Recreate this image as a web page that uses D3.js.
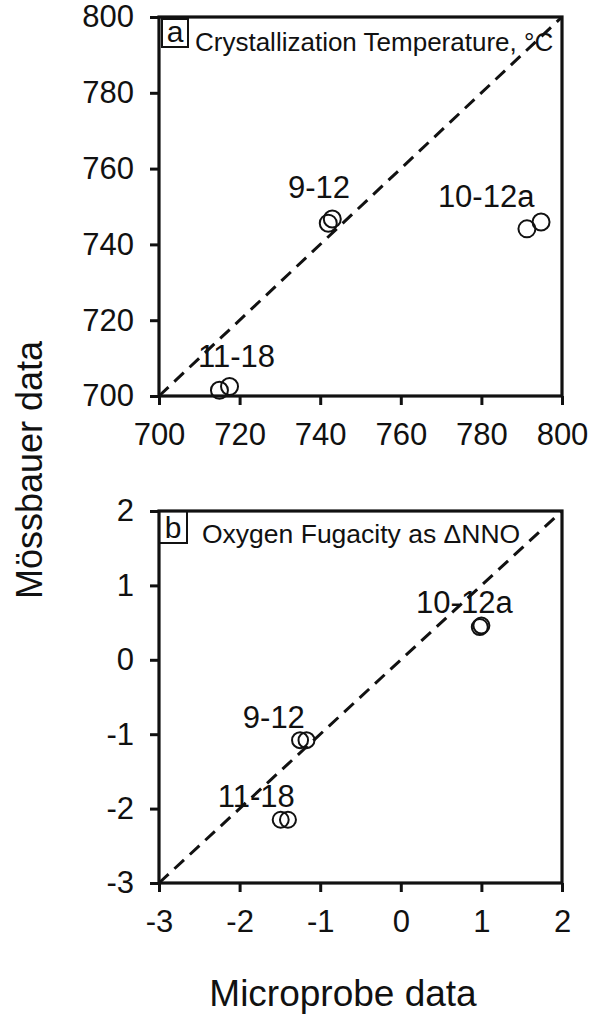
<!DOCTYPE html>
<html>
<head>
<meta charset="utf-8">
<script src="https://cdn.jsdelivr.net/npm/d3@7"></script>
<style>
  body { margin: 0; background: #fff; }
  text { font-family: "Liberation Sans", Arial, sans-serif; fill: #111; }
</style>
</head>
<body>
<div id="chart"></div>
<script>
// data (two circles per sample)
const sampleNames = ["11-18", "11-18", "9-12", "9-12", "10-12a", "10-12a"];
const tempMicroprobe = [715, 717.5, 742, 743, 791.3, 794.8];
const tempMossbauer = [701.5, 702.5, 745.6, 746.7, 744.1, 745.9];
const fo2Microprobe = [-1.49, -1.40, -1.25, -1.17, 0.98, 1.0];
const fo2Mossbauer = [-2.15, -2.15, -1.08, -1.08, 0.44, 0.46];

const tempTicks = [700, 720, 740, 760, 780, 800];
const fo2Ticks = [-3, -2, -1, 0, 1, 2];

// sample labels, anchored in data units (start, baseline)
const tempLabels = [["11-18", 709.7, 707.7], ["9-12", 732, 752.2], ["10-12a", 769.2, 749.9]];
const fo2Labels = [["11-18", -2.27, -1.98], ["9-12", -1.96, -0.92], ["10-12a", 0.19, 0.63]];

const width = 590, height = 1017;

const svg = d3.select("#chart")
  .append("svg")
    .attr("width", width)
    .attr("height", height);

function panel(opts) {
  const x = d3.scaleLinear().domain(opts.domain).range([159, 562]);
  const y = d3.scaleLinear().domain(opts.domain).range([opts.bottom, opts.top]);
  const g = svg.append("g");

  // dashed 1:1 line
  g.append("line")
    .attr("x1", x(opts.domain[0])).attr("y1", y(opts.domain[0]))
    .attr("x2", x(opts.domain[1])).attr("y2", y(opts.domain[1]))
    .attr("stroke", "#111").attr("stroke-width", 3)
    .attr("stroke-dasharray", "13,8");

  // circles
  g.selectAll("circle")
    .data(opts.xs.map((v, i) => [v, opts.ys[i]]))
    .join("circle")
      .attr("cx", d => x(d[0]))
      .attr("cy", d => y(d[1]))
      .attr("r", opts.r)
      .attr("fill", "none")
      .attr("stroke", "#111")
      .attr("stroke-width", 2);

  // sample labels
  g.selectAll("text.lab")
    .data(opts.labels)
    .join("text")
      .attr("class", "lab")
      .attr("x", d => x(d[1]))
      .attr("y", d => y(d[2]))
      .style("font-size", "31px")
      .text(d => d[0]);

  // axes
  const fmt = d => String(d);
  const ax = g.append("g")
    .attr("transform", `translate(0,${opts.bottom})`)
    .call(d3.axisBottom(x).tickValues(opts.ticks).tickFormat(fmt).tickSize(9).tickPadding(12));
  const ay = g.append("g")
    .attr("transform", "translate(159,0)")
    .call(d3.axisLeft(y).tickValues(opts.ticks).tickFormat(fmt).tickSize(9).tickPadding(16));
  [ax, ay].forEach(a => {
    a.select(".domain").remove();
    a.selectAll("line").attr("stroke", "#111").attr("stroke-width", 3);
    a.selectAll("text").style("font-size", "31px").attr("fill", "#111");
  });
  ax.selectAll("text").attr("dy", "0.9em");

  // frame
  g.append("rect")
    .attr("x", 159).attr("y", opts.top)
    .attr("width", 403).attr("height", opts.bottom - opts.top)
    .attr("fill", "none").attr("stroke", "#111").attr("stroke-width", 3.2);

  // letter box
  g.append("rect")
    .attr("x", opts.box[0]).attr("y", opts.box[1])
    .attr("width", opts.box[2]).attr("height", opts.box[3])
    .attr("fill", "none").attr("stroke", "#111").attr("stroke-width", 2);
  g.append("text")
    .attr("x", opts.box[0] + opts.box[2] / 2)
    .attr("y", opts.box[1] + opts.box[3] - 5)
    .attr("text-anchor", "middle")
    .style("font-size", "30px")
    .text(opts.letter);

  g.append("text")
    .attr("x", opts.titlePos[0]).attr("y", opts.titlePos[1])
    .style("font-size", opts.titleSize)
    .text(opts.title);
}

panel({
  domain: [700, 800], ticks: tempTicks, top: 17, bottom: 396,
  xs: tempMicroprobe, ys: tempMossbauer, labels: tempLabels, r: 8.5,
  box: [162, 19, 26, 28], letter: "a",
  title: "Crystallization Temperature, °C", titlePos: [195, 51], titleSize: "26px"
});

panel({
  domain: [-3, 2], ticks: fo2Ticks, top: 511, bottom: 883,
  xs: fo2Microprobe, ys: fo2Mossbauer, labels: fo2Labels, r: 8,
  box: [159, 511, 28, 32], letter: "b",
  title: "Oxygen Fugacity as \u0394NNO", titlePos: [202, 543], titleSize: "26.5px"
});

// shared axis titles
svg.append("text")
  .attr("x", 343).attr("y", 1006)
  .attr("text-anchor", "middle")
  .style("font-size", "37px")
  .text("Microprobe data");

svg.append("text")
  .attr("transform", "translate(42,470) rotate(-90)")
  .attr("text-anchor", "middle")
  .style("font-size", "36px")
  .text("Mössbauer data");
</script>
</body>
</html>
